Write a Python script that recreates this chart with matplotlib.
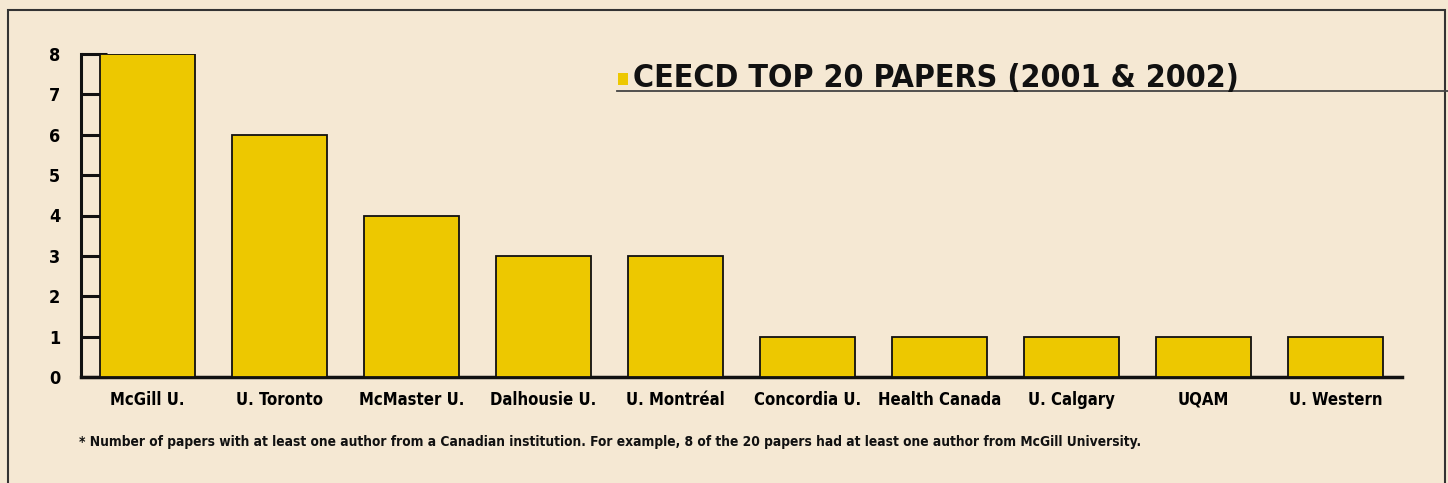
import matplotlib
matplotlib.use("Agg")
import matplotlib.pyplot as plt
from matplotlib.patches import Rectangle
from matplotlib.lines import Line2D

categories = ["McGill U.", "U. Toronto", "McMaster U.", "Dalhousie U.", "U. Montréal",
              "Concordia U.", "Health Canada", "U. Calgary", "UQAM", "U. Western"]
papers = [8, 6, 4, 3, 3, 1, 1, 1, 1, 1]
yticks = [0, 1, 2, 3, 4, 5, 6, 7, 8]
title = "CEECD TOP 20 PAPERS (2001 & 2002)"
footnote = ("* Number of papers with at least one author from a Canadian institution. "
            "For example, 8 of the 20 papers had at least one author from McGill University.")

BG = "#F5E8D3"
BAR = "#EDC800"
FONT = ["DejaVu Sans"]
ST = "condensed"

W, H = 1448, 483
fig = plt.figure(figsize=(W / 100, H / 100), dpi=100, facecolor=BG)

def fx(px):
    return px / W

def fy(py):
    return 1 - py / H

# outer frame
fig.patches.append(Rectangle((fx(8), fy(500)), fx(1445) - fx(8), fy(10) - fy(500),
                             transform=fig.transFigure, fill=False, edgecolor="#333333",
                             linewidth=1.5))

ax = fig.add_axes([fx(81), fy(377), fx(1402) - fx(81), fy(54) - fy(377)])
ax.set_facecolor("none")
x = list(range(len(categories)))
ax.bar(x, papers, width=0.72, color=BAR, edgecolor="#111111", linewidth=1.3, zorder=3)
ax.set_xlim(-0.504, len(categories) - 1 + 0.504)
ax.set_ylim(0, 8)
ax.set_yticks(yticks)
ax.set_yticklabels([str(v) for v in yticks], fontfamily=FONT, fontweight="bold",
                   fontsize=13, fontstretch=ST)
ax.set_xticks(x)
ax.set_xticklabels(categories, fontfamily=FONT, fontweight="bold", fontsize=12,
                   fontstretch=ST)
ax.tick_params(axis="y", direction="in", length=19, width=2.2, pad=15, color="#111111")
ax.tick_params(axis="x", length=0, pad=10)
for s in ["top", "right"]:
    ax.spines[s].set_visible(False)
ax.spines["left"].set_linewidth(2.2)
ax.spines["bottom"].set_linewidth(2.5)
ax.spines["left"].set_color("#111111")
ax.spines["bottom"].set_color("#111111")

# title
fig.patches.append(Rectangle((fx(618), fy(85)), fx(628) - fx(618), fy(73) - fy(85),
                             transform=fig.transFigure, facecolor=BAR, edgecolor="none"))
fig.text(fx(633), fy(87), title, fontfamily=FONT, fontweight="bold", fontsize=23,
         fontstretch=ST, ha="left", va="baseline", color="#111111")
fig.add_artist(Line2D([fx(617), fx(1448)], [fy(91), fy(91)], transform=fig.transFigure,
                      color="#444444", linewidth=1.3))

fig.text(fx(79), fy(446), footnote, fontfamily=FONT, fontweight="bold", fontsize=9.9,
         fontstretch=ST, ha="left", va="baseline", color="#111111")

fig.savefig("out.png", dpi=100, facecolor=BG)
